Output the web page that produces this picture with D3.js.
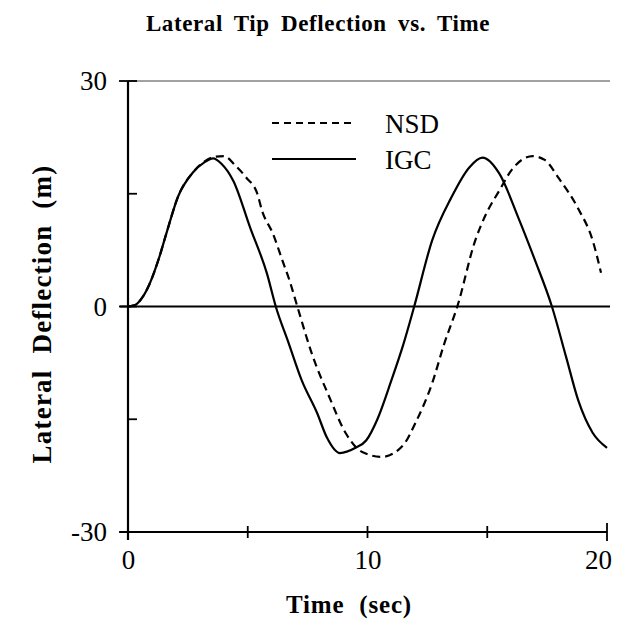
<!DOCTYPE html>
<html>
<head>
<meta charset="utf-8">
<script src="https://cdn.jsdelivr.net/npm/d3@7"></script>
<style>
  html, body { margin: 0; padding: 0; background: #fff; }
  svg { display: block; }
</style>
</head>
<body>
<svg id="chart" width="618" height="622"></svg>
<script>
// ---- data ----
const igcTime = [0, 0.3, 0.6, 0.9, 1.3, 1.6, 2.1, 2.7, 3.2, 3.55, 3.9, 4.4, 5.1, 5.8, 6.17, 6.7, 7.25, 7.9, 8.3, 8.85, 9.5, 9.95, 10.4, 11.0, 11.5, 11.95, 12.7, 13.5, 14.25, 14.8, 15.5, 16.3, 17.0, 17.7, 18.3, 18.8, 19.4, 20];
const igcDeflection = [0, 0.2, 1.2, 3, 6.5, 9.7, 14.7, 17.8, 19.2, 19.7, 19, 16.7, 10.5, 4.4, 0, -4.8, -9.8, -14.2, -17.4, -19.5, -18.8, -17.8, -15.1, -9.8, -5, 0, 8.8, 14.5, 18.5, 19.8, 17.7, 11.8, 6.1, 0, -6.8, -12.5, -16.8, -18.8];
const nsdTime = [0, 0.3, 0.6, 0.9, 1.3, 1.6, 2.1, 2.7, 3.2, 3.6, 4.0, 4.5, 4.95, 5.4, 5.6, 6.05, 6.45, 6.75, 7.07, 7.7, 8.4, 9.1, 9.8, 10.6, 11.5, 12.0, 12.7, 13.2, 13.75, 14.5, 14.95, 15.5, 16.05, 16.9, 17.4, 18.0, 18.8, 19.4, 19.75];
const nsdDeflection = [0, 0.2, 1.2, 3, 6.5, 9.7, 14.7, 17.8, 19.3, 19.9, 20, 18.7, 17.1, 15, 12.7, 9.7, 6.1, 3.4, 0, -6.5, -12, -16.9, -19.4, -20, -18.4, -15.5, -10.2, -5, 0, 8.8, 12.3, 15.4, 18.3, 20, 19.5, 17, 13, 8.8, 4.5];
const xTickValues = [0, 5, 10, 15, 20];
const xTickLabels = ["0", "", "10", "", "20"];
const yTickValues = [-30, -15, 0, 15, 30];
const yTickLabels = ["-30", "", "0", "", "30"];
const seriesNames = ["NSD", "IGC"];
const titleText = "Lateral Tip Deflection vs. Time";
const xTitle = "Time (sec)";
const yTitle = "Lateral Deflection (m)";

const SERIF = "Liberation Serif, DejaVu Serif, serif";

// ---- layout ----
const svg = d3.select("#chart");
const x = d3.scaleLinear().domain([0, 20]).range([128, 607]);
const y = d3.scaleLinear().domain([-30, 30]).range([532, 81]);

svg.append("line")
  .attr("x1", x(0)).attr("x2", 610).attr("y1", y(30)).attr("y2", y(30))
  .attr("stroke", "#444").attr("stroke-width", 1.2);

svg.append("line")
  .attr("x1", x(0) - 8).attr("x2", 610).attr("y1", y(0)).attr("y2", y(0))
  .attr("stroke", "#000").attr("stroke-width", 2);

const yAxis = d3.axisLeft(y).tickValues(yTickValues)
  .tickFormat((d, i) => yTickLabels[i]).tickSize(0).tickPadding(21);
const gy = svg.append("g").attr("transform", `translate(${x(0)},0)`).call(yAxis);
gy.attr("font-family", SERIF).attr("font-size", 27);
gy.select(".domain").remove();
gy.selectAll("text").attr("font-family", SERIF).attr("dy", "0.33em");
svg.append("line")
  .attr("x1", x(0)).attr("x2", x(0)).attr("y1", y(30)).attr("y2", y(-30) + 8)
  .attr("stroke", "#000").attr("stroke-width", 2.2);
yTickValues.forEach(v => {
  const full = (v === 30 || v === 0 || v === -30);
  svg.append("line")
    .attr("x1", full ? x(0) - 9 : x(0)).attr("x2", x(0) + 9)
    .attr("y1", y(v)).attr("y2", y(v))
    .attr("stroke", "#000").attr("stroke-width", 1.8);
});

const xAxis = d3.axisBottom(x).tickValues(xTickValues)
  .tickFormat((d, i) => xTickLabels[i]).tickSize(0).tickPadding(18);
const gx = svg.append("g").attr("transform", `translate(0,${y(-30)})`).call(xAxis);
gx.attr("font-family", SERIF).attr("font-size", 27);
gx.select(".domain").remove();
gx.selectAll("text").attr("font-family", SERIF)
  .attr("dx", d => d === 20 ? "-9" : "0");
svg.append("line")
  .attr("x1", x(0) - 8).attr("x2", x(20)).attr("y1", y(-30)).attr("y2", y(-30))
  .attr("stroke", "#000").attr("stroke-width", 2);
xTickValues.forEach(v => {
  const big = (v === 20);
  svg.append("line")
    .attr("x1", x(v)).attr("x2", x(v))
    .attr("y1", y(-30) - (big ? 9 : 6)).attr("y2", y(-30) + (big ? 9 : 6))
    .attr("stroke", "#000").attr("stroke-width", 1.8);
});

const lineGen = d3.line().x(d => x(d[0])).y(d => y(d[1])).curve(d3.curveMonotoneX);
const nsdData = nsdTime.map((t, i) => [t, nsdDeflection[i]]);
const igcData = igcTime.map((t, i) => [t, igcDeflection[i]]);

svg.append("path").datum(nsdData).attr("d", lineGen)
  .attr("fill", "none").attr("stroke", "#000").attr("stroke-width", 2.2)
  .attr("stroke-dasharray", "8,5");
svg.append("path").datum(igcData).attr("d", lineGen)
  .attr("fill", "none").attr("stroke", "#000").attr("stroke-width", 2.2);

const legend = svg.append("g");
const legendY = [123, 159];
seriesNames.forEach((name, i) => {
  legend.append("line")
    .attr("x1", 272).attr("x2", 356).attr("y1", legendY[i]).attr("y2", legendY[i])
    .attr("stroke", "#000").attr("stroke-width", 2.2)
    .attr("stroke-dasharray", i === 0 ? "7,5" : null);
  legend.append("text")
    .attr("x", 385).attr("y", legendY[i] + 10)
    .attr("font-family", SERIF).attr("font-size", 27)
    .text(name);
});

svg.append("text")
  .attr("x", 318).attr("y", 31)
  .attr("text-anchor", "middle")
  .attr("font-family", SERIF)
  .attr("font-size", 23).attr("font-weight", "bold")
  .style("word-spacing", "5px").style("letter-spacing", "0.6px")
  .text(titleText);

svg.append("text")
  .attr("x", 349).attr("y", 613)
  .attr("text-anchor", "middle")
  .attr("font-family", SERIF)
  .attr("font-size", 25).attr("font-weight", "bold")
  .style("word-spacing", "8px").style("letter-spacing", "0.8px")
  .text(xTitle);

svg.append("text")
  .attr("transform", "translate(51,314) rotate(-90)")
  .attr("text-anchor", "middle")
  .attr("font-family", SERIF)
  .attr("font-size", 27).attr("font-weight", "bold")
  .style("word-spacing", "8px").style("letter-spacing", "1.2px")
  .text(yTitle);
</script>
</body>
</html>
